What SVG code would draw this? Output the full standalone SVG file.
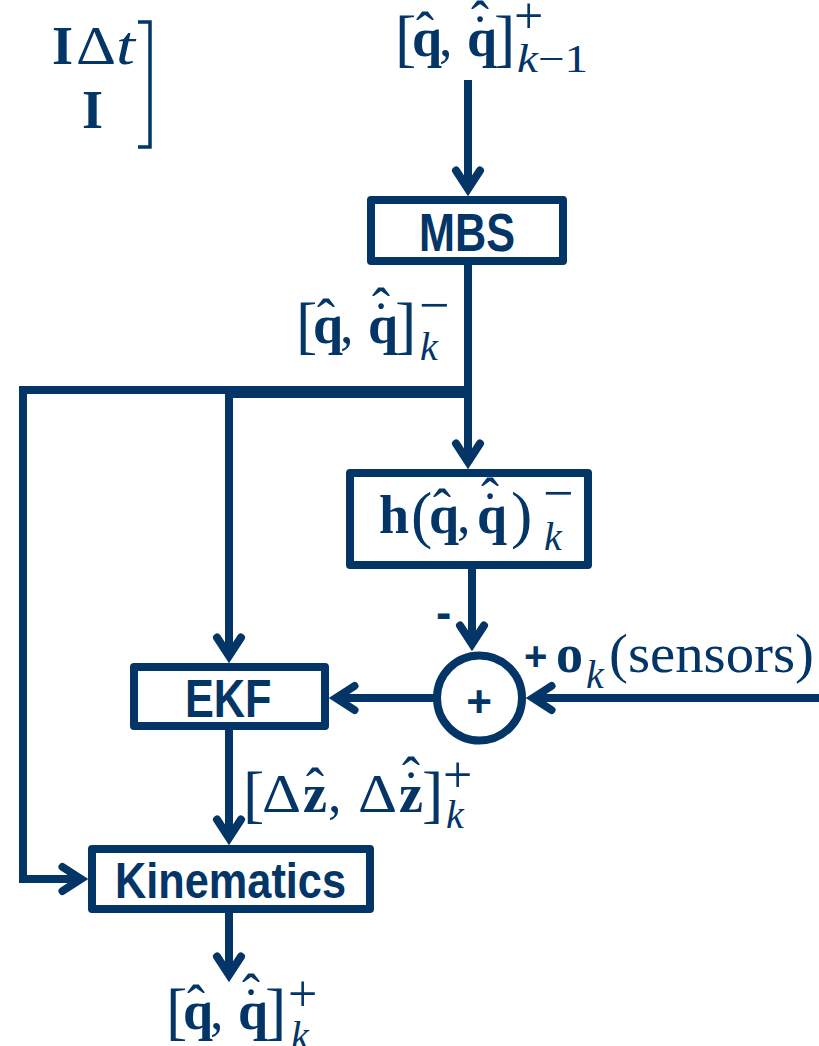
<svg xmlns="http://www.w3.org/2000/svg" width="819" height="1046" viewBox="0 0 819 1046">
<style>
  .ln{fill:none;stroke:#033567;stroke-width:8;stroke-linejoin:miter}
  .box{fill:#fff;stroke:#033567;stroke-width:8;stroke-linejoin:round}
  .lbl{font-family:"Liberation Sans",Arial,sans-serif;font-weight:bold;fill:#033567}
  .m{font-family:"Liberation Serif","Times New Roman",serif;fill:#033567;font-size:54px}
  .b{font-weight:bold}
  .i{font-style:italic}
  .br{font-size:64px}
  .sc{font-size:40px}
  .pl{font-size:52px}
</style>
<defs>
  <marker id="ah" markerUnits="userSpaceOnUse" markerWidth="60" markerHeight="60" viewBox="-30 -30 60 60" refX="0" refY="0" orient="auto" overflow="visible">
    <path d="M-18.5,-12 L0,0 L-18.5,12" fill="none" stroke="#033567" stroke-width="8" stroke-linecap="round" stroke-linejoin="miter"/>
  </marker>
</defs>

<g id="connectors">
  <line class="ln" x1="468" y1="80" x2="468" y2="189" marker-end="url(#ah)"/>
  <line class="ln" x1="468" y1="265" x2="468" y2="462" marker-end="url(#ah)"/>
  <polyline class="ln" points="468,390 23,390 23,879 81,879" marker-end="url(#ah)"/>
  <line class="ln" x1="229" y1="392" x2="468" y2="392" style="stroke-width:12"/>
  <line class="ln" x1="229" y1="390" x2="229" y2="656" marker-end="url(#ah)"/>
  <line class="ln" x1="472" y1="569" x2="472" y2="644" marker-end="url(#ah)"/>
  <line class="ln" x1="434" y1="698" x2="336" y2="698" marker-end="url(#ah)"/>
  <line class="ln" x1="819" y1="698" x2="533" y2="698" marker-end="url(#ah)"/>
  <line class="ln" x1="229" y1="730" x2="229" y2="838" marker-end="url(#ah)"/>
  <line class="ln" x1="229" y1="913" x2="229" y2="975" marker-end="url(#ah)"/>
</g>

<g id="matrix">
  <text class="m b" x="52" y="64">I</text>
  <text class="m" x="76" y="64" textLength="40" lengthAdjust="spacingAndGlyphs">Δ</text>
  <text class="m i" x="116" y="64" textLength="19" lengthAdjust="spacingAndGlyphs">t</text>
  <text class="m b" x="82" y="128">I</text>
  <polyline points="138,22 150,22 150,147 138,147" fill="none" stroke="#033567" stroke-width="3.5"/>
</g>

<g id="label-in" transform="translate(402,56)">
  <text class="m br" x="-7" y="3">[</text>
  <text class="m b" x="10" y="0">q</text>
  <text class="m" x="23" y="-6" text-anchor="middle">ˆ</text>
  <text class="m" x="37" y="0">,</text>
  <text class="m b" x="65" y="0">q</text>
  <text class="m" x="78" y="-3" text-anchor="middle">˙</text>
  <text class="m" x="78" y="-17" text-anchor="middle">ˆ</text>
  <text class="m br" x="92" y="3">]</text>
  <text class="m pl" x="112" y="-23">+</text>
  <text class="m sc" x="115" y="16" textLength="71" lengthAdjust="spacingAndGlyphs"><tspan class="i">k</tspan>−1</text>
</g>

<g id="MBS">
  <rect class="box" x="371" y="200" width="192" height="61"/>
  <text class="lbl" x="419" y="251" font-size="53" textLength="96" lengthAdjust="spacingAndGlyphs">MBS</text>
</g>

<g id="label-prior" transform="translate(303,343)">
  <text class="m br" x="-7" y="3">[</text>
  <text class="m b" x="10" y="0">q</text>
  <text class="m" x="23" y="-6" text-anchor="middle">ˆ</text>
  <text class="m" x="37" y="0">,</text>
  <text class="m b" x="65" y="0">q</text>
  <text class="m" x="78" y="-3" text-anchor="middle">˙</text>
  <text class="m" x="78" y="-17" text-anchor="middle">ˆ</text>
  <text class="m br" x="92" y="3">]</text>
  <text class="m" x="116" y="-20" font-size="44">−</text>
  <text class="m sc i" x="117" y="17">k</text>
</g>

<g id="h">
  <rect class="box" x="350" y="473" width="238" height="92"/>
  <text class="m b" x="379" y="533">h</text>
  <text class="m br" x="411" y="536">(</text>
  <text class="m b" x="429" y="533">q</text>
  <text class="m" x="442" y="527" text-anchor="middle">ˆ</text>
  <text class="m" x="457" y="533">,</text>
  <text class="m b" x="477" y="533">q</text>
  <text class="m" x="490" y="530" text-anchor="middle">˙</text>
  <text class="m" x="490" y="516" text-anchor="middle">ˆ</text>
  <text class="m br" x="511" y="536">)</text>
  <text class="m" x="543" y="511" font-size="44">−</text>
  <text class="m sc i" x="544" y="550">k</text>
</g>

<g id="sum">
  <circle cx="479.5" cy="698" r="42.5" fill="#fff" stroke="#033567" stroke-width="8"/>
  <text class="lbl" x="479" y="717" font-size="44" text-anchor="middle">+</text>
  <text class="lbl" x="436" y="628" font-size="46">-</text>
  <text class="lbl" x="524" y="670" font-size="40">+</text>
  <text class="m b" x="556" y="672">o</text>
  <text class="m sc i" x="586" y="688">k</text>
  <text class="m" x="609" y="672" textLength="205" lengthAdjust="spacingAndGlyphs">(sensors)</text>
</g>

<g id="EKF">
  <rect class="box" x="134" y="667" width="191" height="59"/>
  <text class="lbl" x="185" y="717" font-size="53" textLength="86.5" lengthAdjust="spacingAndGlyphs">EKF</text>
</g>

<g id="label-delta">
  <text class="m br" x="243" y="815">[</text>
  <text class="m" x="262" y="812" textLength="39" lengthAdjust="spacingAndGlyphs">Δ</text>
  <text class="m b" x="303" y="812">z</text>
  <text class="m" x="315" y="806" text-anchor="middle">ˆ</text>
  <text class="m" x="328" y="812">,</text>
  <text class="m" x="358" y="812" textLength="39" lengthAdjust="spacingAndGlyphs">Δ</text>
  <text class="m b" x="399" y="812">z</text>
  <text class="m" x="411" y="809" text-anchor="middle">˙</text>
  <text class="m" x="411" y="795" text-anchor="middle">ˆ</text>
  <text class="m br" x="422" y="815">]</text>
  <text class="m pl" x="443" y="792">+</text>
  <text class="m sc i" x="446" y="828">k</text>
</g>

<g id="Kinematics">
  <rect class="box" x="92" y="849" width="278" height="60"/>
  <text class="lbl" x="115" y="898" font-size="50" textLength="231" lengthAdjust="spacingAndGlyphs">Kinematics</text>
</g>

<g id="label-out" transform="translate(173,1029)">
  <text class="m br" x="-7" y="3">[</text>
  <text class="m b" x="10" y="0">q</text>
  <text class="m" x="23" y="-6" text-anchor="middle">ˆ</text>
  <text class="m" x="37" y="0">,</text>
  <text class="m b" x="65" y="0">q</text>
  <text class="m" x="78" y="-3" text-anchor="middle">˙</text>
  <text class="m" x="78" y="-17" text-anchor="middle">ˆ</text>
  <text class="m br" x="92" y="3">]</text>
  <text class="m pl" x="115" y="-18">+</text>
  <text class="m sc i" x="118" y="20">k</text>
</g>
</svg>
